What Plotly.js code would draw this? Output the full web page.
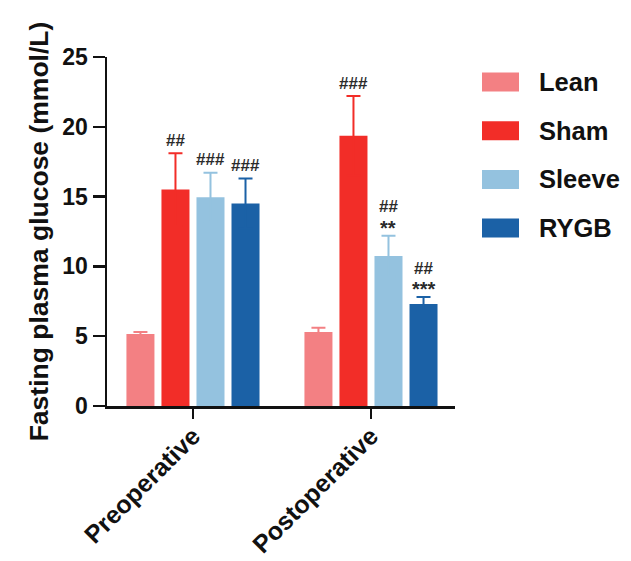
<!DOCTYPE html>
<html>
<head>
<meta charset="utf-8">
<script src="https://cdn.plot.ly/plotly-3.0.1.min.js"></script>
<style>html,body{margin:0;padding:0;background:#fff;}#chart{width:631px;height:561px;}</style>
</head>
<body>
<div id="chart"></div>
<script>
// ---- data ----
var categories = ['Preoperative', 'Postoperative'];
var groupNames = ['Lean', 'Sham', 'Sleeve', 'RYGB'];
var leanVals = [5.15, 5.3];
var leanErr = [0.15, 0.3];
var shamVals = [15.5, 19.35];
var shamErr = [2.6, 2.85];
var sleeveVals = [14.95, 10.75];
var sleeveErr = [1.75, 1.45];
var rygbVals = [14.5, 7.3];
var rygbErr = [1.8, 0.5];
// significance marks (vs lean: #, vs sham: *)
var leanHash = ['', ''];
var shamHash = ['##', '###'];
var sleeveHash = ['###', '##'];
var rygbHash = ['###', '##'];
var leanStar = ['', ''];
var shamStar = ['', ''];
var sleeveStar = ['', '**'];
var rygbStar = ['', '***'];
var yTickVals = [0, 5, 10, 15, 20, 25];

// ---- styling ----
var colors = ['#F38083', '#F22D28', '#94C2DF', '#1B61A6'];
var FONT = 'Arial, "Liberation Sans", Helvetica, sans-serif';
var bargap = 0.213, bargroupgap = 0.2;

var vals = [leanVals, shamVals, sleeveVals, rygbVals];
var errs = [leanErr, shamErr, sleeveErr, rygbErr];
var hashes = [leanHash, shamHash, sleeveHash, rygbHash];
var stars = [leanStar, shamStar, sleeveStar, rygbStar];

var traces = groupNames.map(function (name, i) {
  return {
    type: 'bar',
    name: name,
    x: categories,
    y: vals[i],
    marker: { color: colors[i], line: { width: 0 } },
    error_y: {
      type: 'data', symmetric: true, array: errs[i],
      color: colors[i], thickness: 2, width: 7
    },
    showlegend: false,
    hoverinfo: 'x+y+name'
  };
});

var annotations = [];
var slot = (1 - bargap) / groupNames.length;
groupNames.forEach(function (name, i) {
  categories.forEach(function (cat, c) {
    var xpos = c + (i - (groupNames.length - 1) / 2) * slot;
    var top = vals[i][c] + errs[i][c];
    var hasStar = stars[i][c] !== '';
    if (hashes[i][c]) {
      annotations.push({
        x: xpos, y: top, xref: 'x', yref: 'y', text: hashes[i][c],
        showarrow: false, yanchor: 'middle', yshift: hasStar ? 29 : 13,
        font: { family: FONT, size: 17, color: '#2a2a2a', weight: 'bold' }
      });
    }
    if (hasStar) {
      annotations.push({
        x: xpos, y: top, xref: 'x', yref: 'y', text: stars[i][c],
        showarrow: false, yanchor: 'middle', yshift: 8,
        font: { family: FONT, size: 20, color: '#2a2a2a', weight: 'bold' }
      });
    }
  });
});

// custom legend (large swatches)
var shapes = [];
var legendTop = 82, legendStep = 48.7;
groupNames.forEach(function (name, i) {
  var cy = legendTop + i * legendStep;
  shapes.push({
    type: 'rect', xref: 'paper', yref: 'paper', layer: 'above',
    x0: (482 - 107) / 348, x1: (519 - 107) / 348,
    y0: (406 - (cy + 9.5)) / 349, y1: (406 - (cy - 9.5)) / 349,
    fillcolor: colors[i], line: { width: 0 }
  });
  annotations.push({
    xref: 'paper', yref: 'paper', x: (537 - 107) / 348, y: (406 - cy) / 349,
    xanchor: 'left', yanchor: 'middle', showarrow: false, text: name,
    font: { family: FONT, size: 25.5, color: '#111', weight: 'bold' }
  });
});

var layout = {
  width: 631, height: 561,
  margin: { l: 107, r: 176, t: 57, b: 155 },
  paper_bgcolor: '#ffffff', plot_bgcolor: '#ffffff',
  barmode: 'group', bargap: bargap, bargroupgap: bargroupgap,
  showlegend: false,
  font: { family: FONT, color: '#111' },
  xaxis: {
    type: 'category', range: [-0.483, 1.472],
    showline: true, linecolor: '#111', linewidth: 2.5,
    ticks: 'outside', ticklen: 10, tickwidth: 2.5, tickcolor: '#111',
    tickangle: -45, showgrid: false, zeroline: false,
    ticklabelstandoff: -7,
    tickfont: { family: FONT, size: 25, color: '#111', weight: 'bold' },
    automargin: false
  },
  yaxis: {
    range: [0, 25], tickvals: yTickVals,
    showline: true, linecolor: '#111', linewidth: 2.5,
    ticks: 'outside', ticklen: 12, tickwidth: 2.5, tickcolor: '#111',
    showgrid: false, zeroline: false,
    tickfont: { family: FONT, size: 23, color: '#111', weight: 'bold' },
    title: { text: 'Fasting plasma glucose (mmol/L)', standoff: 6,
             font: { family: FONT, size: 26.5, color: '#111', weight: 'bold' } },
    automargin: false
  },
  annotations: annotations,
  shapes: shapes
};

Plotly.newPlot('chart', traces, layout, { displayModeBar: false, staticPlot: true });
</script>
</body>
</html>
